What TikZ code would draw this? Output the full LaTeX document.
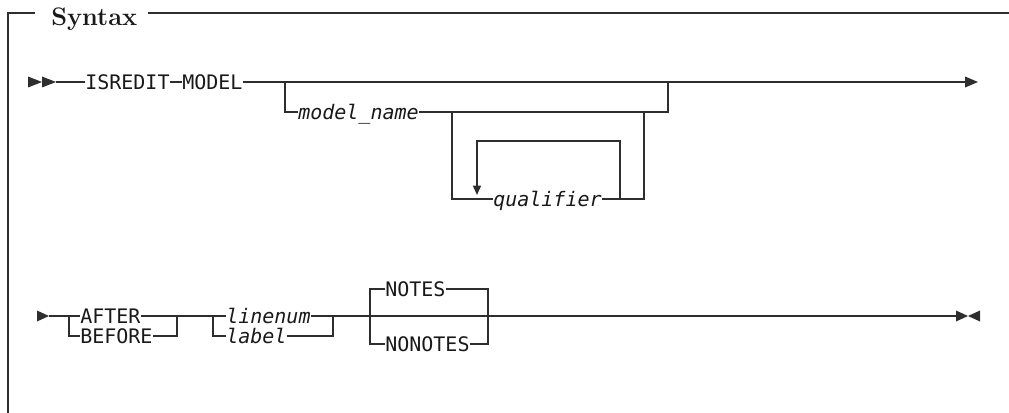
\documentclass[tikz,border=0pt]{standalone}
\usepackage{fontspec}
\usetikzlibrary{arrows.meta}
\newfontfamily\railfont{DejaVu Sans Mono}
\definecolor{railgray}{gray}{0.18}

\begin{document}
\begin{tikzpicture}[x=0.75pt,y=-0.75pt,
  rail/.style={draw=railgray, line width=1.1pt},
  kw/.style={anchor=west, inner sep=0pt, text height=10.9pt, text depth=0pt,
    text=black!90, font=\railfont\fontsize{15}{18}\selectfont},
  var/.style={kw, font=\railfont\fontsize{15}{18}\selectfont\itshape}]
  \useasboundingbox (0,0) rectangle (1009,413);
  % frame
  \coordinate (fbot) at (8,413);
  \coordinate (fgapl) at (35,13);
  \coordinate (fgapr) at (148,13);
  \coordinate (fend) at (1009,13);
  \draw[rail] (fbot) |- (fgapl);
  \draw[rail] (fgapr) -- (fend);
  \node[anchor=base west, inner sep=0pt, text=black!90,
    font=\bfseries\fontsize{19}{22}\selectfont] (title) at (51,26) {Syntax};

  % first line
  \foreach \x in {28,42}
    \fill[railgray] (\x,76.5) -- ++(14,5.5) -- ++(-14,5.5) -- cycle;
  \coordinate (r1start) at (56,82);
  \node[kw] (isredit) at (85,82) {ISREDIT};
  \node[kw] (model) at (182,82) {MODEL};
  \coordinate (r1end) at (978,82);
  \draw[rail] (r1start) -- (isredit);
  \draw[rail] (isredit) -- (model);
  \draw[rail, -{Triangle[length=9.75pt,width=8pt]}] (model) -- (r1end);

  \coordinate (mnl) at (285,82);
  \coordinate (mnr) at (668,82);
  \node[var] (mname) at (298,112) {model\_name};
  \draw[rail] (mnl) |- (mname);
  \draw[rail] (mname) -| (mnr);

  \coordinate (ql) at (452,112);
  \coordinate (qr) at (644,112);
  \node[var] (qual) at (493,199) {qualifier};
  \draw[rail] (ql) |- (qual);
  \draw[rail] (qual) -| (qr);
  \coordinate (rpr) at (620,199);
  \coordinate (rpl) at (477,195);
  \draw[rail, -{Triangle[length=7pt,width=6pt]}] (rpr) -- ++(0,-58) -| (rpl);

  % second line
  \fill[railgray] (37,310.5) -- (49,316) -- (37,321.5) -- cycle;
  \coordinate (r2start) at (49,316);
  \coordinate (abl) at (69,316);
  \coordinate (abr) at (177,316);
  \node[kw] (after) at (80,316) {AFTER};
  \node[kw] (before) at (80,336) {BEFORE};
  \draw[rail] (r2start) -- (after);
  \draw[rail] (after) -- (abr);
  \draw[rail] (abl) |- (before);
  \draw[rail] (before) -| (abr);

  \coordinate (lnl) at (213,316);
  \coordinate (lnr) at (333,316);
  \node[var] (linenum) at (226,316) {linenum};
  \node[var] (label) at (226,336) {label};
  \draw[rail] (abr) -- (linenum);
  \draw[rail] (linenum) -- (lnr);
  \draw[rail] (lnl) |- (label);
  \draw[rail] (label) -| (lnr);

  \coordinate (ntl) at (370,316);
  \coordinate (ntr) at (488,316);
  \node[kw] (notes) at (385,289) {NOTES};
  \node[kw] (nonotes) at (385,344) {NONOTES};
  \draw[rail] (ntl) |- (notes);
  \draw[rail] (notes) -| (ntr);
  \draw[rail] (ntl) |- (nonotes);
  \draw[rail] (nonotes) -| (ntr);
  \coordinate (r2end) at (956,316);
  \draw[rail] (lnr) -- (r2end);
  \fill[railgray] (956,310.5) -- (968,316) -- (956,321.5) -- cycle;
  \fill[railgray] (980,310.5) -- (968,316) -- (980,321.5) -- cycle;
\end{tikzpicture}
\end{document}
